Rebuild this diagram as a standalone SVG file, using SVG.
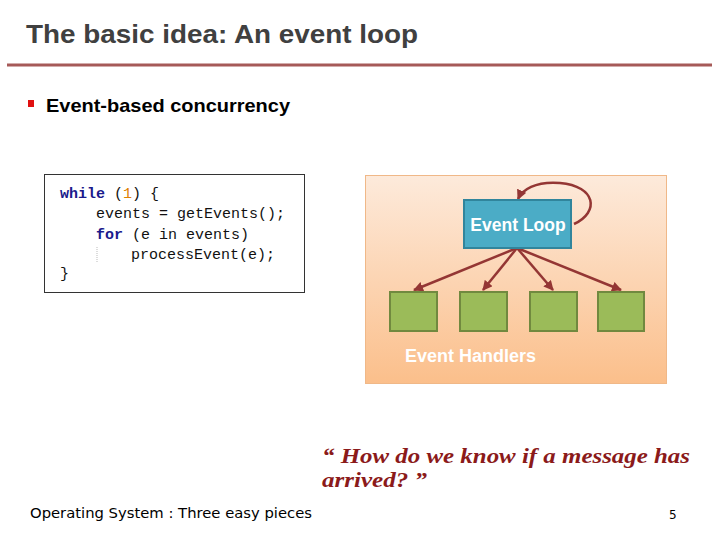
<svg xmlns="http://www.w3.org/2000/svg" width="720" height="540" viewBox="0 0 720 540">
<defs>
<linearGradient id="bg" x1="0" y1="0" x2="0" y2="1">
<stop offset="0" stop-color="#fdeadb"/>
<stop offset="1" stop-color="#fbbf8b"/>
</linearGradient>
<marker id="ah" viewBox="0 0 10 10" refX="9" refY="5" markerWidth="4" markerHeight="4" orient="auto">
<path d="M0,0 L10,5 L0,10 z" fill="#943634"/>
</marker>
<style>
.code{font-family:"Liberation Mono","DejaVu Sans Mono",monospace;font-size:15px;fill:#111}
.kw{font-weight:bold;fill:#1a1a8c}
.hd{fill:#9bbb59;stroke:#71893f;stroke-width:2}
.arr{stroke:#943634;stroke-width:2.5;fill:none;marker-end:url(#ah)}
.wt{font-family:"Liberation Sans",Arial,sans-serif;font-weight:bold;fill:#fff}
</style>
</defs>
<rect width="720" height="540" fill="#fff"/>
<text x="26" y="43" font-family="Liberation Sans,Arial,sans-serif" font-weight="bold" font-size="26" fill="#404040" textLength="392" lengthAdjust="spacingAndGlyphs">The basic idea: An event loop</text>
<line x1="7" y1="65" x2="712" y2="65" stroke="#a65a58" stroke-width="3"/>
<rect x="28" y="100" width="6" height="7" fill="#e01010"/>
<text x="46" y="112" font-family="Liberation Sans,Arial,sans-serif" font-weight="bold" font-size="19" fill="#000" textLength="244" lengthAdjust="spacingAndGlyphs">Event-based concurrency</text>

<g id="code">
<rect x="44.5" y="174.5" width="260" height="118" fill="#fff" stroke="#333" stroke-width="1"/>
<text class="code" x="60" y="198"><tspan class="kw">while</tspan> (<tspan fill="#e08000">1</tspan>) {</text>
<text class="code" x="96" y="218" fill="#555">events = getEvents();</text>
<text class="code" x="96" y="239"><tspan class="kw">for</tspan> (e in events)</text>
<line x1="97" y1="247" x2="97" y2="263" stroke="#bbb" stroke-dasharray="1,1"/>
<text class="code" x="131" y="259">processEvent(e);</text>
<text class="code" x="60" y="278">}</text>
</g>

<g id="panel">
<rect x="365.5" y="175.5" width="301" height="208" fill="url(#bg)" stroke="#f0b888" stroke-width="1"/>
</g>
<g id="connectors">
<path class="arr" d="M574,224 C600,212 596,186 560,183 C535,181 522,190 518,199"/>
<line class="arr" x1="517" y1="248" x2="414" y2="290"/>
<line class="arr" x1="517" y1="248" x2="483" y2="290"/>
<line class="arr" x1="517" y1="248" x2="553" y2="290"/>
<line class="arr" x1="517" y1="248" x2="621" y2="290"/>
</g>
<g id="eventloop">
<rect x="464" y="200" width="107" height="48" fill="#4bacc6" stroke="#31859c" stroke-width="2"/>
<text class="wt" x="518" y="231" text-anchor="middle" font-size="17.5">Event Loop</text>
</g>
<g id="h1"><rect class="hd" x="390" y="292" width="47" height="39"/></g>
<g id="h2"><rect class="hd" x="460" y="292" width="47" height="39"/></g>
<g id="h3"><rect class="hd" x="530" y="292" width="47" height="39"/></g>
<g id="h4"><rect class="hd" x="598" y="292" width="46" height="39"/></g>
<text class="wt" x="405" y="362" font-size="18">Event Handlers</text>

<g font-family="Liberation Serif,Georgia,serif" font-style="italic" font-weight="bold" font-size="20" fill="#8b1a1a">
<text x="322" y="463" textLength="368" lengthAdjust="spacingAndGlyphs">“ How do we know if a message has</text>
<text x="322" y="487" textLength="105" lengthAdjust="spacingAndGlyphs">arrived? ”</text>
</g>
<text x="30" y="518" font-family="DejaVu Sans,Verdana,sans-serif" font-size="14" fill="#000" textLength="282" lengthAdjust="spacingAndGlyphs">Operating System : Three easy pieces</text>
<text x="669" y="519" font-family="DejaVu Sans,sans-serif" font-size="12" fill="#000">5</text>
</svg>
